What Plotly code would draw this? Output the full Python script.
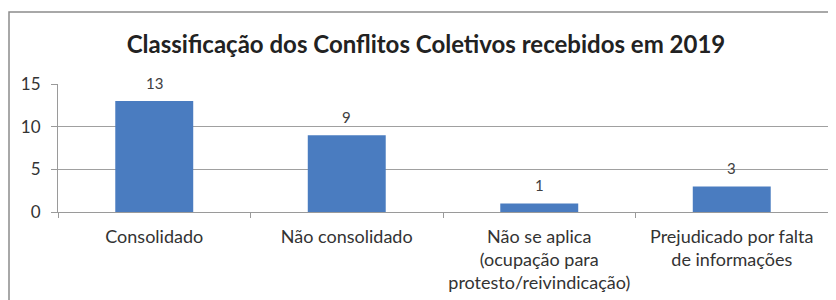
import plotly.graph_objects as go

categories = ["Consolidado", "Não consolidado",
              "Não se aplica<br>(ocupação para<br>protesto/reivindicação)",
              "Prejudicado por falta<br>de informações"]
values = [13, 9, 1, 3]
title = "Classificação dos Conflitos Coletivos recebidos em 2019"

FONT = "Lato, 'Open Sans', sans-serif"
# page body has an 8px margin; figure coordinates are page coordinates minus 8
W, H = 828, 292
L, T = 50, 76
R = W - (828 - 8)
B = H - (212 - 8)
PW, PH = W - L - R, H - T - B

fig = go.Figure(go.Bar(
    x=categories, y=values,
    marker=dict(color="#4A7CC0", line=dict(width=0)),
    width=0.405,
))

for c, v in zip(categories, values):
    fig.add_annotation(x=c, y=v, text=str(v), showarrow=False, yanchor="bottom",
                       yshift=7, font=dict(size=15, color="#404040", family=FONT))

fig.update_layout(
    width=W, height=H,
    margin=dict(l=L, r=R, t=T, b=B, autoexpand=False),
    paper_bgcolor="white", plot_bgcolor="white",
    showlegend=False,
    title=dict(text="<b>" + title + "</b>", x=418/W, xanchor="center",
               y=1 - 37/H, yanchor="middle",
               font=dict(size=24, color="#222222", family=FONT)),
    font=dict(family=FONT, size=18, color="#333333"),
    xaxis=dict(showline=True, linecolor="#9a9a9a", linewidth=1, automargin=False,
               ticks="outside", tickson="boundaries", ticklen=5, tickcolor="#9a9a9a",
               ticklabelstandoff=8, tickangle=0,
               tickfont=dict(size=18, color="#333333"), showgrid=False),
    yaxis=dict(range=[0, 15], tickvals=[0, 5, 10, 15], showgrid=True, automargin=False,
               gridcolor="#a0a0a0", gridwidth=1, showline=True, linecolor="#9a9a9a",
               ticks="outside", ticklen=6, tickcolor="#9a9a9a", zeroline=False,
               ticklabelstandoff=7,
               tickfont=dict(size=17, color="#333333")),
    shapes=[dict(type="rect", xref="paper", yref="paper",
                 x0=-(L - 1) / PW, x1=1 + (R + 20) / PW, y0=-1.0, y1=1 + (T - 4) / PH,
                 line=dict(color="#8c8c8c", width=1.5), fillcolor="rgba(0,0,0,0)",
                 layer="below")],
)

fig.write_html("out.html")
